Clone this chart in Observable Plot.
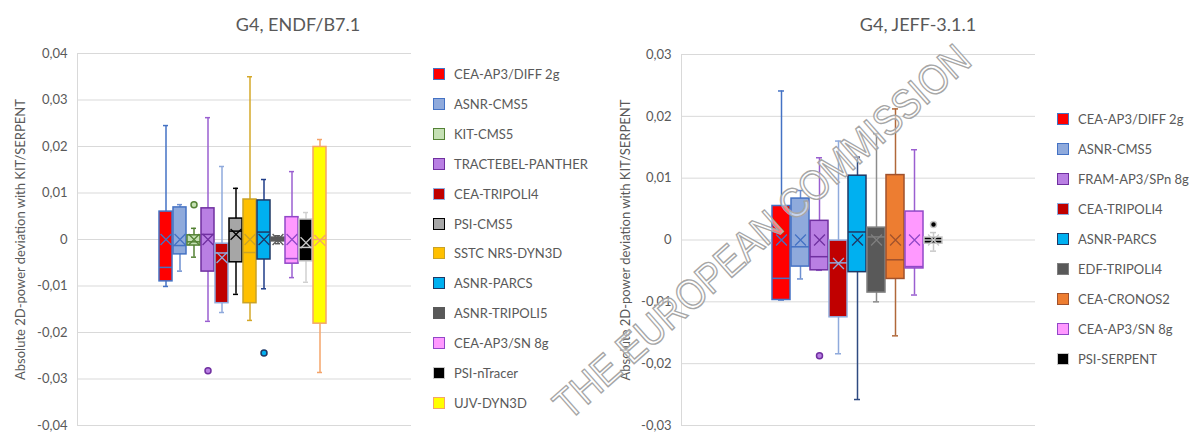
<!DOCTYPE html>
<html>
<head>
<meta charset="utf-8">
<script src="https://cdn.jsdelivr.net/npm/d3@7"></script>
<script src="https://cdn.jsdelivr.net/npm/@observablehq/plot@0.6"></script>
<style>
  html, body { margin: 0; padding: 0; background: #fff; }
  #root { position: relative; width: 1196px; height: 435px; overflow: hidden; font-family: Lato, "Open Sans", sans-serif; color: #595959; }
  .abs { position: absolute; }
  .title { position: absolute; font-size: 18px; color: #595959; white-space: nowrap; transform: translateX(-50%); }
  .leg { position: absolute; font-size: 13px; color: #595959; white-space: nowrap; display: flex; align-items: center; }
  .sw { width: 10px; height: 10px; border: 1.5px solid; margin-right: 9px; box-sizing: content-box; }
  #wm { position: absolute; left: 0; top: 0; pointer-events: none; }
</style>
</head>
<body>
<div id="root"></div>
<script>
// ---------- DATA: left chart (G4, ENDF/B7.1) ----------
const leftNames = ["CEA-AP3/DIFF 2g","ASNR-CMS5","KIT-CMS5","TRACTEBEL-PANTHER","CEA-TRIPOLI4","PSI-CMS5","SSTC NRS-DYN3D","ASNR-PARCS","ASNR-TRIPOLI5","CEA-AP3/SN 8g","PSI-nTracer","UJV-DYN3D"];
const leftLow    = [-0.0101,-0.0068,-0.0038,-0.0176,-0.0157,-0.0118,-0.0174,-0.0106,-0.0009,-0.0082,-0.0092,-0.0286];
const leftQ1     = [-0.0090,-0.0032,-0.0013,-0.0069,-0.0137,-0.0049,-0.0137,-0.0043,-0.0004,-0.0052,-0.0047,-0.0181];
const leftMedian = [-0.0060,-0.0013,-0.0005, 0.0011,-0.0029, 0.0018,-0.0028, 0.0016, 0.0000,-0.0041,-0.0017, 0.0000];
const leftQ3     = [ 0.0060, 0.0069, 0.0009, 0.0067,-0.0009, 0.0045, 0.0086, 0.0084, 0.0004, 0.0048, 0.0043, 0.0199];
const leftHigh   = [ 0.0245, 0.0075, 0.0024, 0.0262, 0.0157, 0.0110, 0.0350, 0.0129, 0.0008, 0.0146, 0.0058, 0.0215];
const leftMean   = [ 0.0000, 0.0000, 0.0000, 0.0000,-0.0039, 0.0011, 0.0000, 0.0000, 0.0000, 0.0000,-0.0007,-0.0002];
const leftOutlierNames  = ["KIT-CMS5","TRACTEBEL-PANTHER","ASNR-PARCS"];
const leftOutlierValues = [0.0075, -0.0282, -0.0244];
const leftTicks = [-0.04,-0.03,-0.02,-0.01,0,0.01,0.02,0.03,0.04];

// ---------- DATA: right chart (G4, JEFF-3.1.1) ----------
const rightNames = ["CEA-AP3/DIFF 2g","ASNR-CMS5","FRAM-AP3/SPn 8g","CEA-TRIPOLI4","ASNR-PARCS","EDF-TRIPOLI4","CEA-CRONOS2","CEA-AP3/SN 8g","PSI-SERPENT"];
const rightLow    = [-0.0097,-0.0063,-0.0049,-0.0184,-0.0258,-0.0100,-0.0155,-0.0089,-0.0018];
const rightQ1     = [-0.0097,-0.0043,-0.0049,-0.0125,-0.0052,-0.0085,-0.0063,-0.0046,-0.0006];
const rightMedian = [-0.0062,-0.0011,-0.0027,-0.0037, 0.0013, 0.0005,-0.0032,-0.0043, 0.0000];
const rightQ3     = [ 0.0055, 0.0067, 0.0031,-0.0001, 0.0104, 0.0020, 0.0105, 0.0046, 0.0004];
const rightHigh   = [ 0.0241, 0.0080, 0.0133, 0.0160, 0.0134, 0.0172, 0.0212, 0.0146, 0.0012];
const rightMean   = [ 0.0000, 0.0000, 0.0000,-0.0038, 0.0000, 0.0000, 0.0000, 0.0000, 0.0000];
const rightOutlierNames  = ["FRAM-AP3/SPn 8g","PSI-SERPENT"];
const rightOutlierValues = [-0.0187, 0.0025];
const rightTicks = [-0.03,-0.02,-0.01,0,0.01,0.02,0.03];

// ---------- STYLES (palettes) ----------
const leftFill   = ["#FF0000","#8FAADC","#C5E0B4","#B97FE3","#C00000","#A6A6A6","#FFC000","#00B0F0","#595959","#FF99FF","#000000","#FFFF00"];
const leftStroke = ["#4472C4","#4472C4","#548235","#7030A0","#8FAADC","#000000","#C9A227","#1F3864","#595959","#9148C8","#C8C8C8","#F4A46A"];
const leftWhisk  = ["#4472C4","#6D8FD0","#548235","#9A5FD0","#8FAADC","#000000","#D4A82A","#1F3C88","#595959","#9A5FD0","#D0D0D0","#F4A46A"];
const rightFill   = ["#FF0000","#8FAADC","#B97FE3","#C00000","#00B0F0","#595959","#ED7D31","#FF99FF","#000000"];
const rightStroke = ["#4472C4","#4472C4","#7030A0","#8FAADC","#1F3864","#7F7F7F","#A0522D","#9148C8","#C8C8C8"];
const rightWhisk  = ["#4472C4","#6D8FD0","#9A5FD0","#8FAADC","#2F4A80","#8C8C8C","#B0683A","#9A5FD0","#C8C8C8"];

const fmt = d => d === 0 ? "0" : d.toFixed(2).replace(".", ",");
const axisLabel = "Absolute 2D-power deviation with KIT/SERPENT";

function buildRows(names, lo, q1, med, q3, hi, mean, fill, stroke, whisk) {
  return names.map((n, i) => ({name: n, lo: lo[i], q1: q1[i], med: med[i], q3: q3[i], hi: hi[i], mean: mean[i],
    fill: fill[i], stroke: stroke[i], whisk: whisk[i]}));
}

function boxChart(opts) {
  const rows = buildRows(opts.names, opts.lo, opts.q1, opts.med, opts.q3, opts.hi, opts.mean, opts.fill, opts.stroke, opts.whisk);
  const idx = new Map(opts.names.map((n, i) => [n, i]));
  const outl = opts.outNames.map((n, i) => ({name: n, v: opts.outValues[i], fill: opts.fill[idx.get(n)], stroke: opts.stroke[idx.get(n)]}));
  return Plot.plot({
    width: opts.width, height: 435,
    marginLeft: opts.marginLeft, marginRight: opts.marginRight, marginTop: opts.marginTop, marginBottom: 10,
    style: {fontFamily: "Lato, 'Open Sans', sans-serif", fontSize: "13px", color: "#595959", background: "transparent", overflow: "visible"},
    x: {type: "band", domain: opts.names, range: opts.xRange, paddingInner: opts.padInner, paddingOuter: 0, axis: null},
    y: {domain: opts.yDomain},
    marks: [
      Plot.gridY(opts.ticks, {stroke: "#D9D9D9", strokeOpacity: 1, strokeWidth: 1}),
      Plot.frame({anchor: "left", stroke: "#D9D9D9", strokeOpacity: 1}),
      Plot.axisY({ticks: opts.ticks, tickSize: 0, tickPadding: 10, tickFormat: fmt, label: axisLabel, labelAnchor: "center", labelOffset: opts.labelOffset, labelArrow: "none", fill: "#595959"}),
      Plot.ruleX(rows, {x: "name", y1: "lo", y2: "hi", stroke: "whisk", strokeWidth: 1.5}),
      Plot.tickY(rows, {x: "name", y: "lo", stroke: "whisk", strokeWidth: 1.5, insetLeft: opts.capInset, insetRight: opts.capInset}),
      Plot.tickY(rows, {x: "name", y: "hi", stroke: "whisk", strokeWidth: 1.5, insetLeft: opts.capInset, insetRight: opts.capInset}),
      Plot.barY(rows, {x: "name", y1: "q1", y2: "q3", fill: "fill", stroke: "stroke", strokeWidth: 1.5}),
      Plot.tickY(rows, {x: "name", y: "med", stroke: "stroke", strokeWidth: 1.5}),
      Plot.dot(rows, {x: "name", y: "mean", symbol: "times", r: 5, stroke: "stroke", strokeWidth: 1.3}),
      Plot.dot(outl, {x: "name", y: "v", r: 3, fill: "fill", stroke: "stroke", strokeWidth: 1.5})
    ]
  });
}

const root = document.getElementById("root");

const left = boxChart({
  names: leftNames, lo: leftLow, q1: leftQ1, med: leftMedian, q3: leftQ3, hi: leftHigh, mean: leftMean,
  fill: leftFill, stroke: leftStroke, whisk: leftWhisk, outNames: leftOutlierNames, outValues: leftOutlierValues,
  width: 420, marginLeft: 77, marginRight: 9, marginTop: 53, yDomain: [-0.04, 0.04], ticks: leftTicks,
  xRange: [157.5, 327.5], padInner: 0.07, capInset: 4, labelOffset: 62
});
left.classList.add("abs"); left.style.left = "0px"; left.style.top = "0px";
root.appendChild(left);

const right = boxChart({
  names: rightNames, lo: rightLow, q1: rightQ1, med: rightMedian, q3: rightQ3, hi: rightHigh, mean: rightMean,
  fill: rightFill, stroke: rightStroke, whisk: rightWhisk, outNames: rightOutlierNames, outValues: rightOutlierValues,
  width: 445, marginLeft: 81, marginRight: 10, marginTop: 54, yDomain: [-0.03, 0.03], ticks: rightTicks,
  xRange: [168, 346], padInner: 0.07, capInset: 6, labelOffset: 61
});
right.classList.add("abs"); right.style.left = "600px"; right.style.top = "0px";
root.appendChild(right);

// titles
function addTitle(text, cx) {
  const d = document.createElement("div");
  d.className = "title"; d.textContent = text;
  d.style.left = cx + "px"; d.style.top = "13px";
  root.appendChild(d);
}
addTitle("G4, ENDF/B7.1", 298);
addTitle("G4, JEFF-3.1.1", 918);

// legends
function addLegend(names, fill, stroke, x, y0, step) {
  names.forEach((n, i) => {
    const d = document.createElement("div");
    d.className = "leg";
    d.style.left = x + "px"; d.style.top = (y0 + i * step - 8) + "px"; d.style.height = "16px";
    const s = document.createElement("span");
    s.className = "sw"; s.style.background = fill[i]; s.style.borderColor = stroke[i];
    const t = document.createElement("span"); t.textContent = n;
    d.appendChild(s); d.appendChild(t);
    root.appendChild(d);
  });
}
addLegend(leftNames, leftFill, leftStroke, 433, 74, 29.9);
addLegend(rightNames, rightFill, rightStroke, 1057, 119, 30);

// watermark
const ns = "http://www.w3.org/2000/svg";
const wm = document.createElementNS(ns, "svg");
wm.setAttribute("id", "wm"); wm.setAttribute("width", 1196); wm.setAttribute("height", 435);
const wt = document.createElementNS(ns, "text");
wt.setAttribute("transform", "translate(764,234) rotate(-41.5)");
wt.setAttribute("text-anchor", "middle");
wt.setAttribute("dominant-baseline", "middle");
wt.setAttribute("font-family", "Liberation Sans, Arial, sans-serif");
wt.setAttribute("font-size", "42");
wt.setAttribute("textLength", "540");
wt.setAttribute("lengthAdjust", "spacingAndGlyphs");
wt.setAttribute("fill", "#ffffff");
wt.setAttribute("fill-opacity", "0.5");
wt.setAttribute("stroke", "#a6a6a6");
wt.setAttribute("stroke-width", "1.4");
wt.textContent = "THE EUROPEAN COMMISSION";
wm.appendChild(wt);
root.appendChild(wm);
</script>
</body>
</html>
